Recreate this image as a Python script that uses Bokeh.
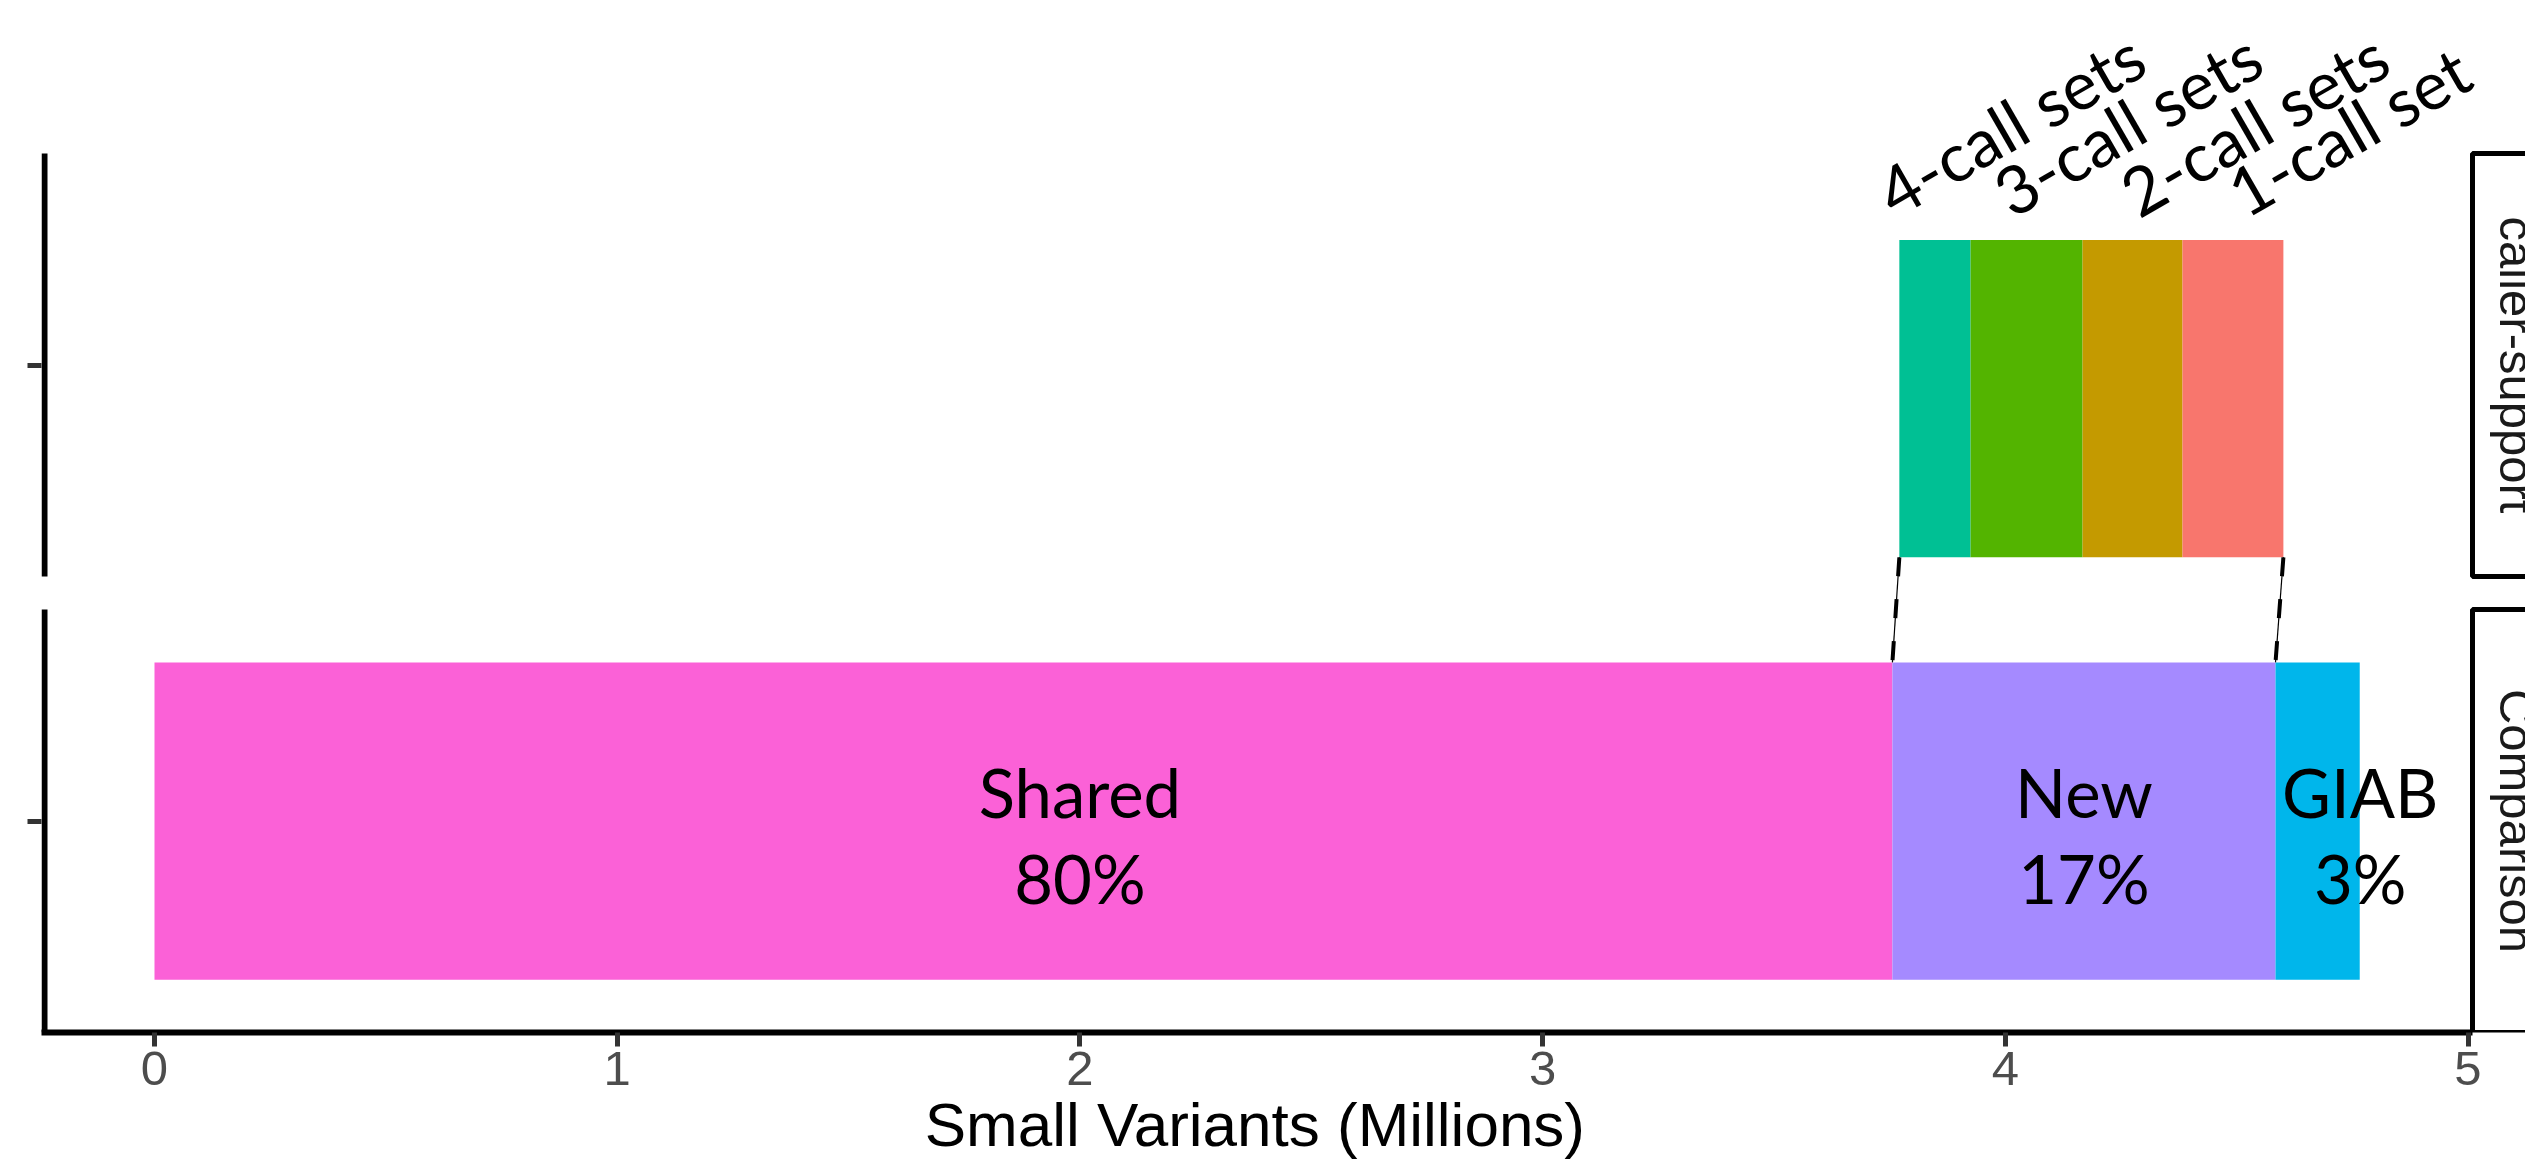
import math
from bokeh.plotting import figure
from bokeh.models import Range1d, FixedTicker, Title
from bokeh.core.properties import value
from bokeh.embed import file_html
from bokeh.resources import INLINE

# ---------------- data (millions of small variants) ----------------
comparison_categories = ["Shared", "New", "GIAB"]
comparison_values = [3.756, 0.828, 0.182]
comparison_percent = ["80%", "17%", "3%"]
comparison_label_x = [2.0, 4.17, 4.767]
comparison_colors = ["#FB61D7", "#A58AFF", "#00B6EB"]

support_categories = ["4-call sets", "3-call sets", "2-call sets", "1-call set"]
support_values = [0.154, 0.242, 0.216, 0.218]
support_start = 3.771
support_label_x = [3.767, 4.020, 4.294, 4.525]
support_colors = ["#00C094", "#53B400", "#C49A00", "#F8766D"]

panel_names = ["Comparison", "caller-support"]
x_ticks = [0, 1, 2, 3, 4, 5]
x_title = "Small Variants (Millions)"

# ---------------- layout ----------------
W, H = 2525, 1175
FRAME_LEFT = 41
FRAME_BOTTOM_PX = 1032
X0_PX = 154.0
PX_PER_X = 462.7
PX_PER_Y = 352.5
x_start = (FRAME_LEFT - X0_PX) / PX_PER_X
x_end = x_start + (W - FRAME_LEFT) / PX_PER_X
y_start = 0.4
y_end = y_start + FRAME_BOTTOM_PX / PX_PER_Y
PANEL_H = 1.2
PANEL_GAP = 0.0936
BAR_H = 0.9
panel_center = [1.0, 1.0 + PANEL_H + PANEL_GAP]
panel_bottom = [c - PANEL_H / 2 for c in panel_center]
panel_top = [c + PANEL_H / 2 for c in panel_center]
support_bar_y = panel_center[1] - 0.0955
STRIP_LEFT_PX = 2472
strip_left = (STRIP_LEFT_PX - X0_PX) / PX_PER_X

LABEL_FONT = value("Lato")
LABEL_SIZE = 67
BASE_SHIFT = 0.45  # baseline correction (fraction of font size)

p = figure(width=W, height=H,
           x_range=Range1d(x_start, x_end), y_range=Range1d(y_start, y_end),
           output_backend="svg", toolbar_location=None,
           min_border_left=FRAME_LEFT, min_border_right=0, min_border_top=0,
           min_border_bottom=H - FRAME_BOTTOM_PX,
           background_fill_color="white", border_fill_color="white",
           outline_line_color=None)
p.grid.visible = False

# comparison bars
comp_left, comp_right = [], []
acc = 0.0
for v in comparison_values:
    comp_left.append(acc)
    acc += v
    comp_right.append(acc)
p.hbar(y=[panel_center[0]] * len(comparison_values), left=comp_left, right=comp_right,
       height=BAR_H, fill_color=comparison_colors, line_color=None)

# caller-support bars
sup_left, sup_right = [], []
acc = support_start
for v in support_values:
    sup_left.append(acc)
    acc += v
    sup_right.append(acc)
p.hbar(y=[support_bar_y] * len(support_values), left=sup_left, right=sup_right,
       height=BAR_H, fill_color=support_colors, line_color=None)

# in-bar labels
shift = BASE_SHIFT * LABEL_SIZE
p.text(x=comparison_label_x, y=[panel_center[0]] * 3, text=comparison_categories,
       text_font=LABEL_FONT, text_font_size=f"{LABEL_SIZE}px", text_color="black",
       text_align="center", text_baseline="alphabetic", y_offset=1.5 - shift)
p.text(x=comparison_label_x, y=[panel_center[0]] * 3, text=comparison_percent,
       text_font=LABEL_FONT, text_font_size=f"{LABEL_SIZE}px", text_color="black",
       text_align="center", text_baseline="alphabetic", y_offset=87.5 - shift)

# rotated labels above caller-support bars
ang = math.pi / 6
p.text(x=support_label_x, y=[support_bar_y + BAR_H / 2] * 4, text=support_categories,
       text_font=LABEL_FONT, text_font_size=f"{LABEL_SIZE}px", text_color="black",
       text_align="left", text_baseline="alphabetic", angle=ang,
       x_offset=-shift * math.sin(ang), y_offset=-17 - shift * math.cos(ang))

# dashed connectors
top_y = support_bar_y - BAR_H / 2
bot_y = panel_center[0] + BAR_H / 2
x_top = [sup_left[0], sup_right[-1]]
x_bot = [comp_right[0], comp_right[1]]
p.segment(x0=x_top, y0=[top_y] * 2, x1=x_bot, y1=[bot_y] * 2,
          line_color="black", line_width=1.2)
p.segment(x0=x_top, y0=[top_y] * 2, x1=x_bot, y1=[bot_y] * 2,
          line_color="black", line_width=4, line_dash="19 23")

# panel left axis lines
axis_x = x_start + 3 / PX_PER_X
p.segment(x0=[axis_x] * 2, y0=[y_start, panel_bottom[1]], x1=[axis_x] * 2, y1=panel_top,
          line_color="black", line_width=6)

# facet strips
p.quad(left=[strip_left] * 2, right=[x_end + 0.3] * 2, bottom=[y_start, panel_bottom[1]],
       top=panel_top, fill_color=None, line_color="black", line_width=5)
strip_text_x = (2494 - X0_PX) / PX_PER_X
p.text(x=[strip_text_x] * 2, y=panel_center, text=panel_names,
       text_font=value("Liberation Sans"), text_font_size="49px", text_color="#1A1A1A",
       text_align="center", text_baseline="alphabetic", angle=-math.pi / 2,
       x_offset=BASE_SHIFT * 49)

# axes
xa = p.xaxis[0]
xa.ticker = FixedTicker(ticks=x_ticks)
xa.bounds = (x_start, strip_left)
xa.major_label_text_font = "Liberation Sans"
xa.major_label_text_font_size = "49px"
xa.major_label_text_color = "#4D4D4D"
xa.major_label_standoff = 5
xa.axis_line_color = "black"
xa.axis_line_width = 6
xa.major_tick_line_color = "#333333"
xa.major_tick_line_width = 5
xa.major_tick_out = 14
xa.major_tick_in = 0
xa.minor_tick_line_color = None

# x-axis title, centred under the panel area (left of the strips)
TITLE_SIZE = 62
title_width_est = 10.72 * TITLE_SIZE          # Liberation Sans advance width of the title
panel_center_px = (FRAME_LEFT + STRIP_LEFT_PX) / 2
xt = Title(text=x_title, align="left", offset=panel_center_px - FRAME_LEFT - title_width_est / 2,
           standoff=0, text_font="Liberation Sans", text_font_size=f"{TITLE_SIZE}px",
           text_font_style="normal", text_color="black")
p.add_layout(xt, "below")

ya = p.yaxis[0]
ya.ticker = FixedTicker(ticks=panel_center)
ya.axis_line_color = None
ya.major_label_text_font_size = "0px"
ya.major_label_text_alpha = 0
ya.major_label_standoff = 0
ya.major_tick_line_color = "#333333"
ya.major_tick_line_width = 5
ya.major_tick_out = 14
ya.major_tick_in = 0
ya.minor_tick_line_color = None

open("out.html", "w").write(file_html(p, INLINE))
